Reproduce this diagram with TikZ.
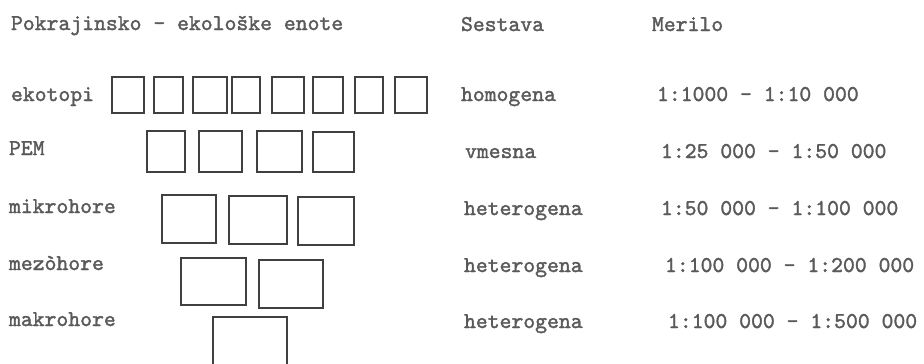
\documentclass[tikz,border=0pt]{standalone}
\usepackage{fontspec}
\newfontfamily\tw{lmmono10-regular.otf}[RawFeature={embolden=1.6}]
\definecolor{txt}{HTML}{5A5A5A}
\definecolor{ink}{HTML}{404040}
\tikzset{
  lbl/.style={anchor=base west, inner sep=0pt, outer sep=0pt, text=txt, font=\tw\fontsize{22.6}{26}\selectfont},
  box/.style={draw=ink, line width=1.7pt, rectangle, inner sep=0pt, outer sep=0pt}
}
\newcommand\bx[5]{\node[box,minimum width={#4-#2},minimum height={#5-#3}] (#1) at ({(#2+#4)/2},{(#3+#5)/2}) {};}
\begin{document}
\begin{tikzpicture}[x=1pt,y=-1pt]
\useasboundingbox[fill=white] (0,0) rectangle (924,364);
\clip (0,0) rectangle (924,364);
% headers
\node[lbl] (h1) at (11,30) {Pokrajinsko - ekološke enote};
\node[lbl] (h2) at (461,31) {Sestava};
\node[lbl] (h3) at (652,31) {Merilo};
% row labels
\node[lbl] (l1) at (11,101) {ekotopi};
\node[lbl] (l2) at (9,155) {PEM};
\node[lbl] (l3) at (9,213) {mikrohore};
\node[lbl] (l4) at (9,270) {mezòhore};
\node[lbl] (l5) at (9,326) {makrohore};
% Sestava
\node[lbl] (s1) at (461,101) {homogena};
\node[lbl] (s2) at (465,158) {vmesna};
\node[lbl] (s3) at (464,215) {heterogena};
\node[lbl] (s4) at (464,272) {heterogena};
\node[lbl] (s5) at (464,328) {heterogena};
% Merilo
\node[lbl] (m1) at (657,101) {1:1000 - 1:10 000};
\node[lbl] (m2) at (661,158) {1:25 000 - 1:50 000};
\node[lbl] (m3) at (661,215) {1:50 000 - 1:100 000};
\node[lbl] (m4) at (665,272) {1:100 000 - 1:200 000};
\node[lbl] (m5) at (668,328) {1:100 000 - 1:500 000};
% ekotopi boxes
\bx{e1}{112}{77}{144}{113}
\bx{e2}{154}{77}{183}{113}
\bx{e3}{193}{77}{227}{113}
\bx{e4}{232}{77}{260}{113}
\bx{e5}{272}{77}{304}{113}
\bx{e6}{313}{77}{343}{113}
\bx{e7}{355}{77}{383}{113}
\bx{e8}{395}{77}{427}{113}
% PEM boxes
\bx{p1}{147}{131}{185}{172}
\bx{p2}{199}{131}{242}{172}
\bx{p3}{257}{131}{302}{172}
\bx{p4}{313}{132}{354}{172}
% mikrohore
\bx{k1}{162}{195}{216}{243}
\bx{k2}{229}{196}{287}{244}
\bx{k3}{298}{197}{354}{245}
% mezohore
\bx{z1}{181}{258}{246}{305}
\bx{z2}{259}{260}{323}{308}
% makrohore
\bx{a1}{213}{317}{287}{390}
\end{tikzpicture}
\end{document}
